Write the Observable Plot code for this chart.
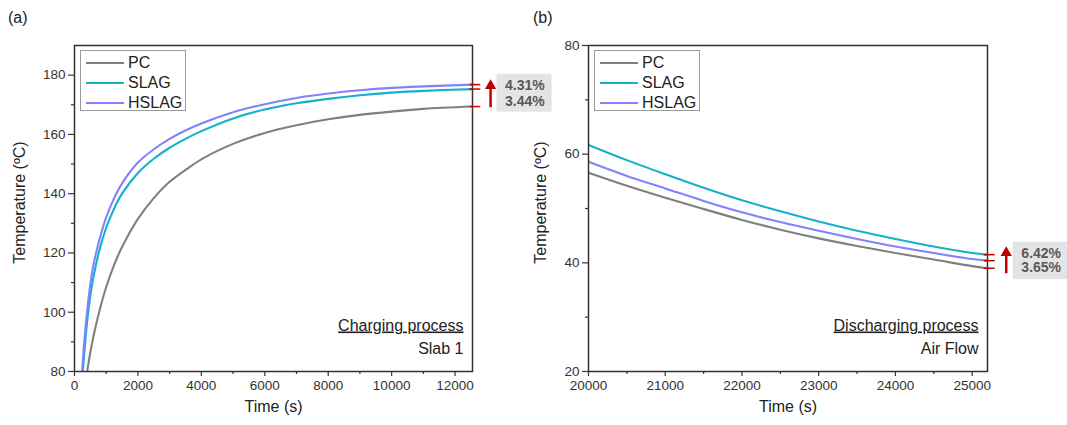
<!DOCTYPE html>
<html>
<head>
<meta charset="utf-8">
<script src="https://cdn.jsdelivr.net/npm/d3@7"></script>
<script src="https://cdn.jsdelivr.net/npm/@observablehq/plot@0.6"></script>
<style>
  html, body { margin: 0; padding: 0; background: #fff; }
  #wrap { position: relative; width: 1067px; height: 425px; font-family: 'Liberation Sans', Arial, sans-serif; color: #333; }
  .panel { position: absolute; top: 0; }
  .plabel { position: absolute; top: 9px; font-size: 16px; color: #222; }
  .legend { position: absolute; border: 1px solid #9a9a9a; background: #fff; width: 104px; height: 59px; }
  .legend .row { position: absolute; left: 0; height: 20px; display: flex; align-items: center; font-size: 16px; color: #222; }
  .legend .row svg { margin-left: 5px; margin-right: 4px; }
</style>
</head>
<body>
<div id="wrap"></div>
<script>
// ---------- data ----------
const seriesNames = ["PC", "SLAG", "HSLAG"];
const seriesColors = ["#808080", "#14b1c9", "#8282ff"];

// Panel (a): charging process, Slab 1
const timeA_PC = [400, 500, 600, 800, 1000, 1250, 1500, 2000, 2500, 3000, 3500, 4000, 5000, 6000, 7000, 8000, 9000, 10000, 11000, 12550];
const tempA_PC = [80, 86.5, 92, 101, 108.5, 116, 122, 131.5, 138.5, 144, 148, 151.6, 156.8, 160.5, 163.1, 165.1, 166.6, 167.7, 168.6, 169.4];
const timeA_SLAG = [260, 300, 400, 500, 600, 800, 1000, 1250, 1500, 2000, 2500, 3000, 3500, 4000, 5000, 6000, 7000, 8000, 9000, 10000, 11000, 12550];
const tempA_SLAG = [80, 85, 97, 105.5, 112, 121.5, 128.5, 135, 140, 147, 151.8, 155.5, 158.5, 161.1, 165.4, 168.4, 170.5, 172, 173.2, 174.1, 174.7, 175.3];
const timeA_HSLAG = [240, 300, 400, 500, 600, 800, 1000, 1250, 1500, 2000, 2500, 3000, 3500, 4000, 5000, 6000, 7000, 8000, 9000, 10000, 11000, 12550];
const tempA_HSLAG = [80, 89, 100.5, 109.5, 116, 125, 132, 138.5, 143.5, 150.5, 155, 158.5, 161.3, 163.7, 167.5, 170.2, 172.3, 173.8, 174.9, 175.7, 176.2, 176.8];

// Panel (b): discharging process, Air Flow
const timeB = [20000, 20500, 21000, 21500, 22000, 22500, 23000, 23500, 24000, 24500, 25000, 25200];
const tempB_PC = [56.6, 54.2, 52.0, 49.9, 47.9, 46.1, 44.5, 43.1, 41.8, 40.6, 39.4, 39.0];
const tempB_SLAG = [61.7, 58.9, 56.3, 53.8, 51.5, 49.5, 47.6, 45.9, 44.4, 43.0, 41.8, 41.5];
const tempB_HSLAG = [58.6, 56.0, 53.7, 51.4, 49.3, 47.5, 45.9, 44.4, 43.0, 41.8, 40.7, 40.4];

// tick labels and texts
const ticksA_x = [0, 2000, 4000, 6000, 8000, 10000, 12000];
const ticksA_y = [80, 100, 120, 140, 160, 180];
const ticksB_x = [20000, 21000, 22000, 23000, 24000, 25000];
const ticksB_y = [20, 40, 60, 80];
const pctA = ["4.31%", "3.44%"];
const pctB = ["6.42%", "3.65%"];
const textsA = ["Charging process", "Slab 1"];
const textsB = ["Discharging process", "Air Flow"];
const xTitle = "Time (s)";
const yTitle = "Temperature (ºC)";

// ---------- helpers ----------
function rows(name, xs, ys) { return xs.map((x, i) => ({series: name, x, y: ys[i]})); }
const RED = "#c00000";
const FONT = "'Liberation Sans', Arial, sans-serif";

function panel(opts) {
  const {width, mLeft, mRight, xDomain, yDomain, data, xMajor, xMinor, yMajor, yMinor,
         ends, ann, pct, texts, yTitleOffset} = opts;
  const chart = Plot.plot({
    width, height: 425,
    marginLeft: mLeft, marginRight: mRight, marginTop: 45, marginBottom: 54,
    style: {fontFamily: FONT, fontSize: "13.5px", color: "#333", background: "transparent", overflow: "visible"},
    x: {domain: xDomain},
    y: {domain: yDomain},
    color: {domain: seriesNames, range: seriesColors},
    marks: [
      Plot.line(data, {x: "x", y: "y", z: "series", stroke: "series", strokeWidth: 2.1, curve: "catmull-rom", clip: true}),
      Plot.frame({stroke: "#333", strokeWidth: 1.5}),
      Plot.axisX({ticks: xMajor, tickSize: 5, tickPadding: 4, fontSize: 13.5, label: null, tickFormat: d => String(d), stroke: "#333", strokeWidth: 1.2}),
      Plot.axisX({ticks: xMinor, tickSize: 3, text: null, label: null, stroke: "#333", strokeWidth: 1.2}),
      Plot.axisY({ticks: yMajor, tickSize: 6, tickPadding: 3, fontSize: 13.5, label: null, tickFormat: d => String(d), stroke: "#333", strokeWidth: 1.2}),
      Plot.axisY({ticks: yMinor, tickSize: 3, text: null, label: null, stroke: "#333", strokeWidth: 1.2}),
      Plot.text([xTitle], {frameAnchor: "bottom", dy: 40, fontSize: 16, fill: "#222"}),
      Plot.text([yTitle], {frameAnchor: "left", textAnchor: "middle", dx: -yTitleOffset, dy: -6, rotate: -90, fontSize: 16, fill: "#222"}),
      Plot.text([texts[0]], {frameAnchor: "bottom-right", dx: -9, dy: -41, textAnchor: "end", fontSize: 16, fill: "#222"}),
      Plot.text([texts[1]], {frameAnchor: "bottom-right", dx: -9, dy: -18, textAnchor: "end", fontSize: 16, fill: "#222"}),
      // annotation: red end markers, arrow, percentage box
      Plot.ruleY(ends.map(y => ({y, x1: ann.t1, x2: ann.t2})), {y: "y", x1: "x1", x2: "x2", stroke: RED, strokeWidth: 1.5}),
      Plot.ruleX([{x: ann.ax, y1: ann.ay1, y2: ann.ay2}], {x: "x", y1: "y1", y2: "y2", stroke: RED, strokeWidth: 2.5}),
      Plot.dot([{x: ann.ax, y: ann.head}], {x: "x", y: "y", symbol: "triangle", fill: RED, r: 4.2}),
      Plot.rect([{x1: ann.bx1, x2: ann.bx2, y1: ann.by1, y2: ann.by2}], {x1: "x1", x2: "x2", y1: "y1", y2: "y2", fill: "#e4e4e4"}),
      Plot.text(pct.map((t, i) => ({t, x: ann.tx, y: ann.ty[i]})), {x: "x", y: "y", text: "t", fontSize: 14, fontWeight: "bold", fill: "#595959"})
    ]
  });
  d3.select(chart).selectAll("text").filter(function() { return this.textContent === texts[0]; })
    .attr("text-decoration", "underline");
  return chart;
}

const dataA = [
  ...rows("PC", timeA_PC, tempA_PC),
  ...rows("SLAG", timeA_SLAG, tempA_SLAG),
  ...rows("HSLAG", timeA_HSLAG, tempA_HSLAG)
];
const dataB = [
  ...rows("PC", timeB, tempB_PC),
  ...rows("SLAG", timeB, tempB_SLAG),
  ...rows("HSLAG", timeB, tempB_HSLAG)
];
const endsA = [tempA_PC.at(-1), tempA_SLAG.at(-1), tempA_HSLAG.at(-1)];
const endsB = [tempB_PC.at(-1), tempB_SLAG.at(-1), tempB_HSLAG.at(-1)];

const chartA = panel({
  width: 530, mLeft: 74, mRight: 58,
  xDomain: [0, 12550], yDomain: [80, 190],
  data: dataA,
  xMajor: ticksA_x, xMinor: d3.range(1000, 12550, 2000),
  yMajor: ticksA_y, yMinor: d3.range(90, 190, 20),
  ends: endsA,
  ann: {t1: 12470, t2: 12810, ax: 13120, ay1: 169.0, ay2: 176.0, head: 176.4,
        bx1: 13320, bx2: 15060, by1: 167.5, by2: 180.3, tx: 14200, ty: [176.6, 171.0]},
  pct: pctA, texts: textsA, yTitleOffset: 55
});
const chartB = panel({
  width: 537, mLeft: 58, mRight: 80,
  xDomain: [20000, 25200], yDomain: [20, 80],
  data: dataB,
  xMajor: ticksB_x, xMinor: d3.range(20500, 25200, 1000),
  yMajor: ticksB_y, yMinor: d3.range(30, 80, 20),
  ends: endsB,
  ann: {t1: 25157, t2: 25300, ax: 25444, ay1: 38.0, ay2: 41.6, head: 41.85,
        bx1: 25535, bx2: 26250, by1: 36.9, by2: 43.8, tx: 25900, ty: [41.66, 39.09]},
  pct: pctB, texts: textsB, yTitleOffset: 48
});

const wrap = document.getElementById("wrap");
function place(el, left) { const d = document.createElement("div"); d.className = "panel"; d.style.left = left + "px"; d.appendChild(el); wrap.appendChild(d); }
place(chartA, 0);
place(chartB, 530);

function addLabel(text, left) { const d = document.createElement("div"); d.className = "plabel"; d.style.left = left + "px"; d.textContent = text; wrap.appendChild(d); }
addLabel("(a)", 8);
addLabel("(b)", 533);

function addLegend(left, top) {
  const box = document.createElement("div");
  box.className = "legend"; box.style.left = left + "px"; box.style.top = top + "px";
  seriesNames.forEach((name, i) => {
    const r = document.createElement("div");
    r.className = "row"; r.style.top = (1.7 + i * 20) + "px";
    r.innerHTML = `<svg width="38" height="4"><line x1="0" x2="38" y1="2" y2="2" stroke="${seriesColors[i]}" stroke-width="2"/></svg><span>${name}</span>`;
    box.appendChild(r);
  });
  wrap.appendChild(box);
}
addLegend(80, 50);
addLegend(594, 50);
</script>
</body>
</html>
